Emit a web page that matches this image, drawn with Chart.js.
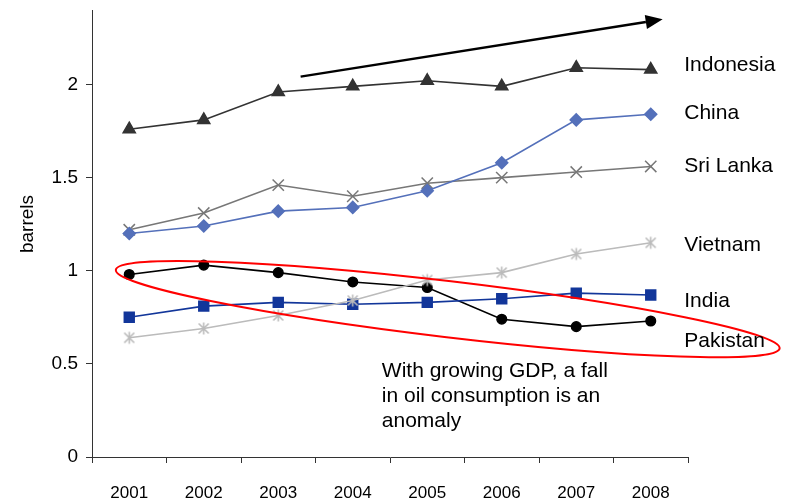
<!DOCTYPE html>
<html>
<head>
<meta charset="utf-8">
<title>Oil consumption per person</title>
<script src="https://cdn.jsdelivr.net/npm/chart.js@4.4.1/dist/chart.umd.min.js"></script>
<style>
	html, body { margin: 0; padding: 0; background: #fff; }
	canvas { display: block; }
</style>
</head>
<body>
<canvas id="chart-oil" width="785" height="503"></canvas>
<script>
// Chart data
const YEARS = ["2001", "2002", "2003", "2004", "2005", "2006", "2007", "2008"];
const INDONESIA = [1.76, 1.81, 1.96, 1.99, 2.02, 1.99, 2.09, 2.08];
const CHINA = [1.20, 1.24, 1.32, 1.34, 1.43, 1.58, 1.81, 1.84];
const SRI_LANKA = [1.22, 1.31, 1.46, 1.40, 1.47, 1.50, 1.53, 1.56];
const VIETNAM = [0.64, 0.69, 0.76, 0.84, 0.95, 0.99, 1.09, 1.15];
const INDIA = [0.75, 0.81, 0.83, 0.82, 0.83, 0.85, 0.88, 0.87];
const PAKISTAN = [0.98, 1.03, 0.99, 0.94, 0.91, 0.74, 0.70, 0.73];
const Y_TICKS = [0, 0.5, 1, 1.5, 2];
const Y_MAX = 2.4;

// Series names written at the right of the plot (value where each sits)
const NAMES = ["Indonesia", "China", "Sri Lanka", "Vietnam", "India", "Pakistan"];
const NAME_VALUES = [2.105, 1.847, 1.562, 1.138, 0.834, 0.622];
const NOTE_LINES = ["With growing GDP, a fall", "in oil consumption is an", "anomaly"];

const FONT = "'Liberation Sans', Arial, sans-serif";

// Asterisk marker (vertical bar + X), like the office-style "*" point
const asterisk = (color) => {
	const c = document.createElement("canvas");
	c.width = 15;
	c.height = 15;
	const g = c.getContext("2d");
	g.strokeStyle = color;
	g.lineWidth = 1.6;
	g.beginPath();
	g.moveTo(7.5, 1.5); g.lineTo(7.5, 13.5);
	g.moveTo(2.5, 2.5); g.lineTo(12.5, 12.5);
	g.moveTo(12.5, 2.5); g.lineTo(2.5, 12.5);
	g.stroke();
	return c;
};

const series = (label, data, color, pointStyle, radius) => ({
	label,
	data,
	borderColor: color,
	backgroundColor: color,
	borderWidth: 1.6,
	pointStyle,
	pointRadius: radius,
	pointHoverRadius: radius,
	pointBackgroundColor: color,
	pointBorderColor: color,
	pointBorderWidth: 1.5,
	tension: 0,
});

//---------------------------------------------------------
// Notes drawn over the plot: names, ellipse, arrow, text
//---------------------------------------------------------
const notes = {
	id: "notes",
	afterDatasetsDraw(chart) {
		const { ctx, scales: { x, y } } = chart;
		ctx.save();

		// Red ellipse round the falling series (tips in data units)
		const a = { x: x.getPixelForValue(-0.18), y: y.getPixelForValue(1.005) };
		const b = { x: x.getPixelForValue(8.73), y: y.getPixelForValue(0.583) };
		ctx.beginPath();
		ctx.ellipse((a.x + b.x) / 2, (a.y + b.y) / 2, Math.hypot(b.x - a.x, b.y - a.y) / 2, 28,
			Math.atan2(b.y - a.y, b.x - a.x), 0, Math.PI * 2);
		ctx.strokeStyle = "#ff0000";
		ctx.lineWidth = 2;
		ctx.stroke();

		// Trend arrow
		const s = { x: x.getPixelForValue(2.30), y: y.getPixelForValue(2.042) };
		const e = { x: x.getPixelForValue(7.16), y: y.getPixelForValue(2.35) };
		const ang = Math.atan2(e.y - s.y, e.x - s.x);
		const head = 17;
		ctx.beginPath();
		ctx.moveTo(s.x, s.y);
		ctx.lineTo(e.x - Math.cos(ang) * head, e.y - Math.sin(ang) * head);
		ctx.strokeStyle = "#000";
		ctx.lineWidth = 2.4;
		ctx.stroke();
		ctx.beginPath();
		ctx.moveTo(e.x, e.y);
		ctx.lineTo(e.x - Math.cos(ang) * head + Math.sin(ang) * 7, e.y - Math.sin(ang) * head - Math.cos(ang) * 7);
		ctx.lineTo(e.x - Math.cos(ang) * head - Math.sin(ang) * 7, e.y - Math.sin(ang) * head + Math.cos(ang) * 7);
		ctx.closePath();
		ctx.fillStyle = "#000";
		ctx.fill();

		// Series names
		ctx.font = `21px ${FONT}`;
		ctx.fillStyle = "#000";
		ctx.textAlign = "left";
		ctx.textBaseline = "middle";
		NAMES.forEach((name, i) => {
			ctx.fillText(name, x.getPixelForValue(7.45), y.getPixelForValue(NAME_VALUES[i]));
		});

		// Note text
		ctx.textBaseline = "alphabetic";
		const nx = x.getPixelForValue(3.39);
		const ny = y.getPixelForValue(0.431);
		NOTE_LINES.forEach((line, i) => ctx.fillText(line, nx, ny + i * 25));

		// Axis title
		ctx.font = `19px ${FONT}`;
		ctx.textAlign = "center";
		ctx.translate(33, 224);
		ctx.rotate(-Math.PI / 2);
		ctx.fillText("barrels", 0, 0);

		ctx.restore();
	},
};

// Chart config
const CHART_CONFIG = {
	type: "line",
	data: {
		labels: YEARS,
		datasets: [
			series("Indonesia", INDONESIA, "#333333", "triangle", 7),
			series("China", CHINA, "#5470BA", "rectRot", 6),
			series("Sri Lanka", SRI_LANKA, "#777777", "crossRot", 8),
			series("Vietnam", VIETNAM, "#BBBBBB", asterisk("#BBBBBB"), 7),
			series("India", INDIA, "#12369A", "rect", 7),
			series("Pakistan", PAKISTAN, "#000000", "circle", 4.8),
		],
	},
	options: {
		responsive: false,
		animation: false,
		layout: {
			padding: { top: 10, right: 97, left: 0, bottom: 0 },
		},
		plugins: {
			legend: { display: false },
			title: { display: false },
			tooltip: { enabled: false },
		},
		scales: {
			x: {
				type: "category",
				offset: true,
				afterFit: (scale) => {
					scale.height = 46;
					scale.paddingLeft = 0;
					scale.paddingRight = 0;
				},
				border: { color: "#333", width: 1 },
				grid: {
					offset: true,
					drawOnChartArea: false,
					drawTicks: true,
					tickLength: 6,
					color: "#333",
				},
				ticks: {
					color: "#000",
					font: { family: FONT, size: 17 },
					padding: 20,
					maxRotation: 0,
					autoSkip: false,
				},
			},
			y: {
				min: 0,
				max: Y_MAX,
				afterFit: (scale) => {
					scale.width = 92;
					scale.paddingTop = 0;
					scale.paddingBottom = 0;
				},
				afterBuildTicks: (scale) => { scale.ticks = Y_TICKS.map((v) => ({ value: v })); },
				border: { color: "#333", width: 1 },
				grid: {
					drawOnChartArea: false,
					drawTicks: true,
					tickLength: 6,
					color: "#333",
				},
				ticks: {
					color: "#000",
					font: { family: FONT, size: 19 },
					padding: 8,
					callback: (v) => String(v),
				},
			},
		},
	},
	plugins: [notes],
};

new Chart(document.getElementById("chart-oil"), CHART_CONFIG);
</script>
</body>
</html>
